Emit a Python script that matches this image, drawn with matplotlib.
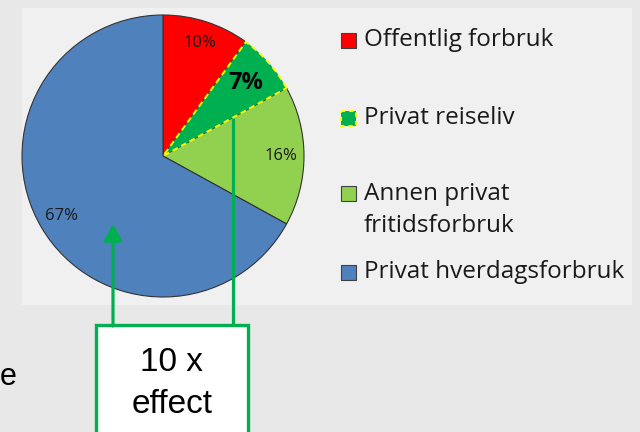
import numpy as np
import matplotlib
matplotlib.use("Agg")
import matplotlib.pyplot as plt
from matplotlib.patches import Rectangle

# data
labels = ["Offentlig forbruk", "Privat reiseliv", "Annen privat\nfritidsforbruk", "Privat hverdagsforbruk"]
shares = [10, 7, 16, 67]
colors = ["#ff0000", "#00b050", "#92d050", "#4f81bd"]
legend_y = [40, 118, 210, 272]          # legend row centres, px from top
box_lines = ["10 x", "effect"]

W, H = 640, 432
fig = plt.figure(figsize=(6.4, 4.32), dpi=100, facecolor="#e8e8e8")

# light panel behind the chart
fig.patches.append(Rectangle((22 / W, 1 - 305 / H), 610 / W, 297 / H,
                             transform=fig.transFigure, facecolor="#f0f0f0",
                             edgecolor="none", zorder=-10))

# pie, centred at (163, 156) px with radius 141 px
cx, cy, r = 163, 156, 141
ax = fig.add_axes([(cx - r) / W, 1 - (cy + r) / H, 2 * r / W, 2 * r / H])
ax.set_facecolor("none")
wedges, texts, autotexts = ax.pie(
    shares, colors=colors, startangle=90, counterclock=False,
    autopct="%d%%", pctdistance=0.84, radius=1.0,
    wedgeprops=dict(edgecolor="#333333", linewidth=0.8),
    textprops=dict(family="Open Sans", fontsize=12, color="#1a1a1a"))
ax.set_xlim(-1, 1)
ax.set_ylim(-1, 1)

# highlighted travel slice: yellow dashed outline, big bold label
wedges[1].set_edgecolor("#ffff00")
wedges[1].set_linestyle((0, (3, 2)))
wedges[1].set_linewidth(1.4)
wedges[1].set_zorder(3)
t = autotexts[1]
t.set_position(np.array(t.get_position()) * 0.78 / 0.84)
t.set_fontsize(17)
t.set_fontweight("bold")
t.set_color("black")

# overlay in pixel coordinates for legend, arrows and box
ov = fig.add_axes([0, 0, 1, 1])
ov.set_xlim(0, W)
ov.set_ylim(H, 0)
ov.axis("off")
ov.set_facecolor("none")

for lab, col, y in zip(labels, colors, legend_y):
    nlines = lab.count("\n") + 1
    sq_y = y - (nlines - 1) * 17
    if col == "#00b050":
        sq = Rectangle((341, sq_y - 7.5), 15, 15, facecolor=col, edgecolor="#ffff00",
                       linewidth=1.5, linestyle=(0, (2, 2)))
    else:
        sq = Rectangle((341, sq_y - 7.5), 15, 15, facecolor=col, edgecolor="#404040",
                       linewidth=0.8)
    ov.add_patch(sq)
    ov.text(364, y, lab, family="Open Sans", fontsize=17.5, color="#1a1a1a",
            va="center", ha="left", linespacing=1.45)

green = "#00b050"
ov.annotate("", xy=(113, 224), xytext=(113, 326),
            arrowprops=dict(arrowstyle="-|>,head_length=1.0,head_width=0.55",
                            color=green, lw=2.3, shrinkA=0, shrinkB=0))
ov.plot([233, 233], [118, 326], color=green, lw=2.3, solid_capstyle="butt")

ov.add_patch(Rectangle((96, 325), 152, 120, facecolor="white", edgecolor=green,
                       linewidth=2.4, clip_on=False))
ov.text(172, 371, box_lines[0], family="Liberation Sans", fontsize=24,
        ha="center", va="baseline", color="black")
ov.text(172, 413, box_lines[1], family="Liberation Sans", fontsize=24,
        ha="center", va="baseline", color="black")

# cut-off slide text at the left edge
ov.text(0, 385, "e", family="Liberation Sans", fontsize=22,
        ha="left", va="baseline", color="black")

fig.savefig("out.png", dpi=100, facecolor=fig.get_facecolor())
